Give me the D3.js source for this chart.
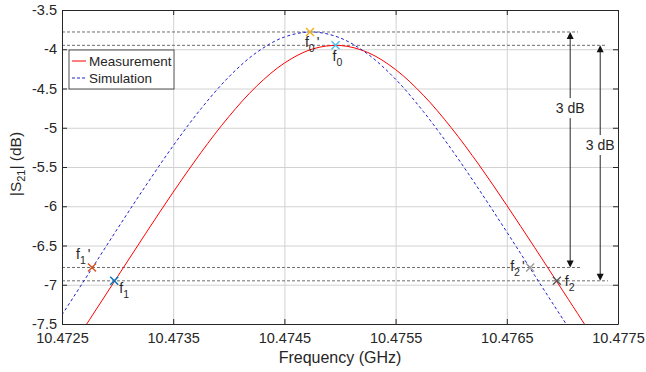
<!DOCTYPE html>
<html>
<head>
<meta charset="utf-8">
<script src="https://cdn.jsdelivr.net/npm/d3@7"></script>
<style>
    body { margin: 0; background: #fff; }
    svg text { font-family: "Liberation Sans", Arial, sans-serif; fill: #262626; }
</style>
</head>
<body>
<svg id="chart" width="646" height="372"></svg>
<script>
// frequency grid (GHz) the curves were read at
var freqs = [10.4725, 10.47275, 10.473, 10.47325, 10.4735, 10.47375, 10.474, 10.47425, 10.4745,
    10.47475, 10.475, 10.47525, 10.4755, 10.47575, 10.476, 10.47625, 10.4765, 10.47675,
    10.477, 10.47725];

// |S21| in dB
var measured = [-7.98, -7.44, -6.895, -6.352, -5.82, -5.316, -4.859, -4.47, -4.176,
    -3.998, -3.952, -4.041, -4.259, -4.586, -4.999, -5.473, -5.989, -6.525,
    -7.069, -7.613];
var simulated = [-7.384, -6.835, -6.284, -5.745, -5.229, -4.758, -4.353, -4.041, -3.844,
    -3.78, -3.855, -4.062, -4.382, -4.794, -5.27, -5.787, -6.328, -6.879,
    -7.428, -7.97];

var xTicks = [10.4725, 10.4735, 10.4745, 10.4755, 10.4765, 10.4775];
var yTicks = [-3.5, -4, -4.5, -5, -5.5, -6, -6.5, -7, -7.5];

// marker points
var markerNames = ["f0'", "f0", "f1'", "f1", "f2'", "f2"];
var markerFreq = [10.47473, 10.47496, 10.47277, 10.47297, 10.47671, 10.47695];
var markerVal = [-3.78, -3.95, -6.78, -6.95, -6.78, -6.95];

// reference levels (dB) and where their dotted lines stop (GHz)
var refLevels = [-3.78, -3.95, -6.78, -6.95];
var refEnds = [10.47714, 10.4774, 10.47716, 10.47741];

// 3 dB arrows: x (GHz), top level, bottom level, label level
var arrowX = [10.47707, 10.47734];
var arrowTop = [-3.78, -3.95];
var arrowBottom = [-6.78, -6.95];
var arrowText = [-4.75, -5.22];

var markerStyle = {
    "f0'": {color: "#EDB120", dx: -5, dy: 15},
    "f0":  {color: "#4DBEEE", dx: -3, dy: 16},
    "f1'": {color: "#D95319", dx: -16, dy: -8},
    "f1":  {color: "#0072BD", dx: 5, dy: 12},
    "f2'": {color: "#9a9a9a", dx: -20, dy: 4},
    "f2":  {color: "#555555", dx: 8, dy: 5}
};

var svg = d3.select("#chart"),
    margin = {top: 10, right: 28, bottom: 48, left: 62},
    width = 646 - margin.left - margin.right,
    height = 372 - margin.top - margin.bottom,
    g = svg.append("g").attr("transform", "translate(" + margin.left + "," + margin.top + ")");

var x = d3.scaleLinear().domain([10.4725, 10.4775]).range([0, width]);
var y = d3.scaleLinear().domain([-7.5, -3.5]).range([height, 0]);

g.append("defs").append("clipPath").attr("id", "clip")
    .append("rect").attr("width", width).attr("height", height);

// grid
g.append("g")
    .attr("transform", "translate(0," + height + ")")
    .call(d3.axisBottom(x).tickValues(xTicks).tickSize(-height).tickFormat(""))
    .call(function (s) {
        s.select(".domain").remove();
        s.selectAll("line").attr("stroke", "#d2d2d2");
    });
g.append("g")
    .call(d3.axisLeft(y).tickValues(yTicks).tickSize(-width).tickFormat(""))
    .call(function (s) {
        s.select(".domain").remove();
        s.selectAll("line").attr("stroke", "#d2d2d2");
    });

var plot = g.append("g").attr("clip-path", "url(#clip)");

// reference dotted lines
refLevels.forEach(function (v, i) {
    plot.append("line")
        .attr("x1", x(10.4725)).attr("x2", x(refEnds[i]))
        .attr("y1", y(v)).attr("y2", y(v))
        .attr("stroke", "#6e6e6e")
        .attr("stroke-width", 1)
        .attr("stroke-dasharray", "3,2");
});

var line = d3.line().curve(d3.curveCatmullRom)
    .x(function (d) { return x(d[0]); })
    .y(function (d) { return y(d[1]); });

plot.append("path")
    .datum(d3.zip(freqs, measured))
    .attr("fill", "none")
    .attr("stroke", "#ff0000")
    .attr("stroke-width", 1)
    .attr("d", line);

plot.append("path")
    .datum(d3.zip(freqs, simulated))
    .attr("fill", "none")
    .attr("stroke", "#2020d0")
    .attr("stroke-width", 1)
    .attr("stroke-dasharray", "3,2.5")
    .attr("d", line);

// markers
markerNames.forEach(function (name, i) {
    var st = markerStyle[name],
        cx = x(markerFreq[i]),
        cy = y(markerVal[i]),
        r = 4;
    var m = g.append("g").attr("stroke", st.color).attr("stroke-width", 1.4);
    m.append("line").attr("x1", cx - r).attr("y1", cy - r).attr("x2", cx + r).attr("y2", cy + r);
    m.append("line").attr("x1", cx - r).attr("y1", cy + r).attr("x2", cx + r).attr("y2", cy - r);

    var t = g.append("text")
        .attr("x", cx + st.dx)
        .attr("y", cy + st.dy)
        .attr("font-size", 14);
    t.append("tspan").text("f");
    t.append("tspan").attr("font-size", 10.5).attr("dy", 5).text(name.charAt(1));
    if (name.length > 2) {
        t.append("tspan").attr("dx", 2).attr("dy", -5).text("'");
    }
});

// 3 dB arrows
arrowX.forEach(function (fx, i) {
    var ax = x(fx),
        yt = y(arrowTop[i]),
        yb = y(arrowBottom[i]),
        ym = y(arrowText[i]),
        a = g.append("g");
    a.append("line").attr("x1", ax).attr("x2", ax).attr("y1", yt + 6).attr("y2", ym - 10)
        .attr("stroke", "#262626").attr("stroke-width", 1);
    a.append("line").attr("x1", ax).attr("x2", ax).attr("y1", ym + 10).attr("y2", yb - 6)
        .attr("stroke", "#262626").attr("stroke-width", 1);
    a.append("path")
        .attr("d", "M" + ax + "," + yt + "l-3.5,7h7z")
        .attr("fill", "#111");
    a.append("path")
        .attr("d", "M" + ax + "," + yb + "l-3.5,-7h7z")
        .attr("fill", "#111");
    a.append("text")
        .attr("x", ax).attr("y", ym + 5)
        .attr("text-anchor", "middle")
        .attr("font-size", 14)
        .text("3 dB");
});

// axes (ticks pointing inward, box on all sides)
function styleAxis(s) {
    s.select(".domain").attr("stroke", "#262626").attr("stroke-width", 1);
    s.selectAll(".tick line").attr("stroke", "#262626");
    s.selectAll(".tick text").attr("font-size", 14.5).attr("fill", "#262626")
        .style("font-family", "'Liberation Sans', Arial, sans-serif");
}

g.append("g")
    .attr("transform", "translate(0," + height + ")")
    .call(d3.axisBottom(x).tickValues(xTicks).tickSizeInner(-5).tickSizeOuter(0).tickPadding(9)
        .tickFormat(function (d) { return String(d); }))
    .call(styleAxis);
g.append("g")
    .call(d3.axisTop(x).tickValues(xTicks).tickSizeInner(-5).tickSizeOuter(0).tickFormat(""))
    .call(styleAxis);
g.append("g")
    .call(d3.axisLeft(y).tickValues(yTicks).tickSizeInner(-5).tickSizeOuter(0).tickPadding(5)
        .tickFormat(function (d) { return String(d); }))
    .call(styleAxis);
g.append("g")
    .attr("transform", "translate(" + width + ",0)")
    .call(d3.axisRight(y).tickValues(yTicks).tickSizeInner(-5).tickSizeOuter(0).tickFormat(""))
    .call(styleAxis);

// legend
var leg = g.append("g").attr("transform", "translate(7,40)");
leg.append("rect")
    .attr("width", 105).attr("height", 39)
    .attr("fill", "#fff").attr("stroke", "#262626").attr("stroke-width", 0.8);
leg.append("line").attr("x1", 3).attr("x2", 17).attr("y1", 11).attr("y2", 11)
    .attr("stroke", "#ff0000");
leg.append("line").attr("x1", 3).attr("x2", 17).attr("y1", 28).attr("y2", 28)
    .attr("stroke", "#2020d0").attr("stroke-dasharray", "3,2");
leg.append("text").attr("x", 20).attr("y", 15.5).attr("font-size", 13.5).text("Measurement");
leg.append("text").attr("x", 20).attr("y", 32.5).attr("font-size", 13.5).text("Simulation");

// axis labels
g.append("text")
    .attr("x", width / 2).attr("y", height + 39)
    .attr("text-anchor", "middle")
    .attr("font-size", 16)
    .text("Frequency (GHz)");

var yl = g.append("text")
    .attr("transform", "translate(-41," + (height / 2 - 3) + ") rotate(-90)")
    .attr("text-anchor", "middle")
    .attr("font-size", 15.5);
yl.append("tspan").text("|S");
yl.append("tspan").attr("font-size", 11).attr("dy", 4).text("21");
yl.append("tspan").attr("dy", -4).text("| (dB)");
</script>
</body>
</html>
